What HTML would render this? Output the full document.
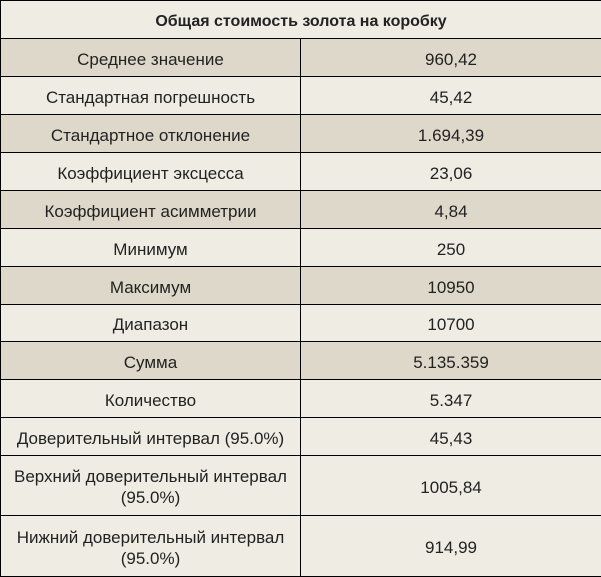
<!DOCTYPE html>
<html><head><meta charset="utf-8"><style>
html,body{margin:0;padding:0;background:#fff;}
table{position:absolute;left:0;top:0;width:601px;height:576px;border-collapse:collapse;table-layout:fixed;font-family:"Liberation Sans","DejaVu Sans",sans-serif;font-size:17px;color:#222;}
td{border:1.5px solid #000;text-align:center;vertical-align:middle;padding:3px 6px 0 6px;line-height:21px;}
tr.l td{background:#efece3;}
tr.d td{background:#ddd8c9;}
tr.h td{font-weight:bold;background:#efece3;font-size:16px;}
</style></head><body>
<table>
<colgroup><col style="width:300px"><col style="width:301px"></colgroup>
<tr class="h" style="height:38px"><td colspan="2">Общая стоимость золота на коробку</td></tr>
<tr class="d" style="height:38px"><td>Среднее значение</td><td>960,42</td></tr>
<tr class="l" style="height:38px"><td>Стандартная погрешность</td><td>45,42</td></tr>
<tr class="d" style="height:38px"><td>Стандартное отклонение</td><td>1.694,39</td></tr>
<tr class="l" style="height:38px"><td>Коэффициент эксцесса</td><td>23,06</td></tr>
<tr class="d" style="height:38px"><td>Коэффициент асимметрии</td><td>4,84</td></tr>
<tr class="l" style="height:38px"><td>Минимум</td><td>250</td></tr>
<tr class="d" style="height:38px"><td>Максимум</td><td>10950</td></tr>
<tr class="l" style="height:37px"><td>Диапазон</td><td>10700</td></tr>
<tr class="d" style="height:38px"><td>Сумма</td><td>5.135.359</td></tr>
<tr class="l" style="height:38px"><td>Количество</td><td>5.347</td></tr>
<tr class="l" style="height:38px"><td>Доверительный интервал (95.0%)</td><td>45,43</td></tr>
<tr class="l" style="height:60px"><td>Верхний доверительный интервал (95.0%)</td><td>1005,84</td></tr>
<tr class="l" style="height:61px"><td>Нижний доверительный интервал (95.0%)</td><td>914,99</td></tr>
</table>
</body></html>
